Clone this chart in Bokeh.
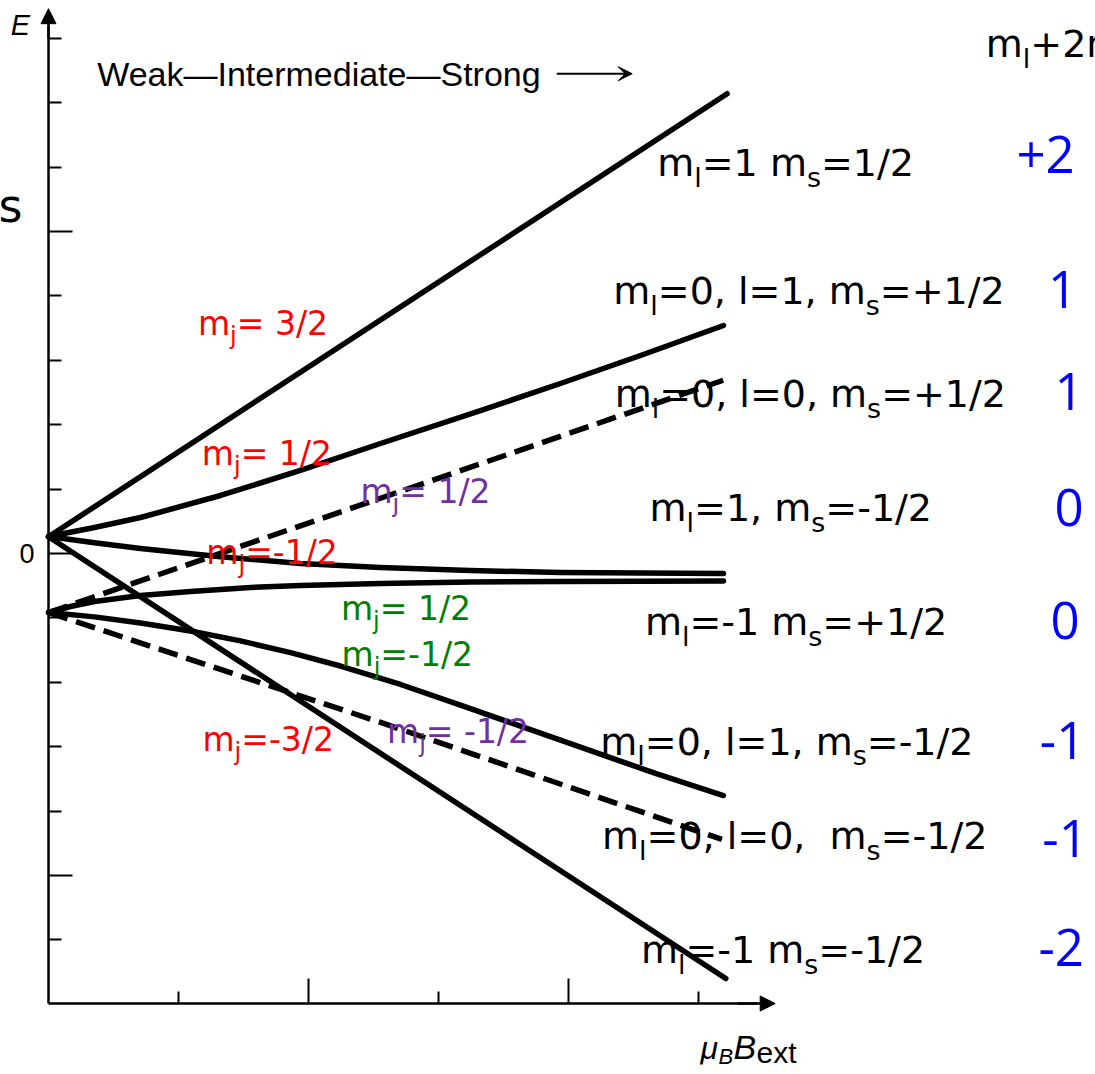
from bokeh.plotting import figure
from bokeh.models import ColumnDataSource, Range1d, FixedTicker, Arrow, NormalHead, VeeHead
from bokeh.core.properties import value
from bokeh.embed import file_html
from bokeh.resources import INLINE

# ---- energy-level curves (x: field in tick units, y: energy in tick units) ----
x_a = [0.0, 5.22]
y_a = [0.26, 7.14]                                   # mj = 3/2  -> +2
x_b = [0.0, 0.354, 0.708, 1.323, 1.938, 2.554, 3.323, 3.938, 4.554, 5.192]
y_b = [0.264, 0.404, 0.559, 0.901, 1.289, 1.708, 2.220, 2.640, 3.075, 3.540]   # mj = 1/2 (upper)
x_c = [0.0, 5.19]
y_c = [-0.916, 2.69]                                 # mj = 1/2 (lower, dashed)
x_d = [0.0, 0.354, 0.708, 1.323, 1.938, 2.554, 3.246, 3.938, 5.192]
y_d = [0.264, 0.166, 0.078, -0.050, -0.155, -0.217, -0.264, -0.295, -0.311]   # mj = -1/2 (upper)
x_e = [0.0, 0.169, 0.354, 0.708, 1.092, 1.554, 1.938, 2.554, 3.246, 3.938, 5.192]
y_e = [-0.916, -0.823, -0.745, -0.652, -0.590, -0.528, -0.497, -0.466, -0.443, -0.435, -0.427]  # mj = 1/2 (lower)
x_f = [0.0, 0.354, 0.708, 1.092, 1.477, 1.862, 2.246, 2.708, 3.169, 3.669, 4.169, 4.669, 5.192]
y_f = [-0.916, -0.984, -1.078, -1.203, -1.357, -1.539, -1.747, -2.034, -2.354, -2.708, -3.061, -3.415, -3.758]  # mj = -1/2
x_g = [0.0, 5.21]
y_g = [0.26, -6.60]                                  # mj = -3/2 -> -2
x_h = [0.0, 2.55, 5.18]
y_h = [-0.916, -2.62, -4.44]                         # mj = -1/2 (dashed)

# ---- axis ticks ----
y_major = [-5, 0, 5]
y_minor = [-6, -4, -3, -2, -1, 1, 2, 3, 4, 6, 7, 8]
x_major = [2, 4]
x_minor = [1, 3, 5]

# ---- labels ("_" marks a one-letter subscript) ----
state_text = ["m_l=1 m_s=1/2", "m_l=0, l=1, m_s=+1/2", "m_l=0, l=0, m_s=+1/2", "m_l=1, m_s=-1/2",
              "m_l=-1 m_s=+1/2", "m_l=0, l=1, m_s=-1/2", "m_l=0, l=0,\u00a0 m_s=-1/2", "m_l=-1 m_s=-1/2"]
state_x = [5.67, 5.85, 5.86, 5.71, 5.75, 5.68, 5.74, 5.65]
state_y = [6.07, 4.07, 2.48, 0.70, -1.07, -2.92, -4.39, -6.16]

shift_text = ["+2", "1", "1", "0", "0", "-1", "-1", "-2"]
shift_x = [7.67, 7.80, 7.85, 7.85, 7.82, 7.80, 7.82, 7.79]
shift_y = [6.20, 4.10, 2.52, 0.71, -1.04, -2.90, -4.43, -6.12]

red_text = ["m_j= 3/2", "m_j= 1/2", "m_j=-1/2", "m_j=-3/2"]
red_x = [1.65, 1.68, 1.72, 1.69]
red_y = [3.57, 1.55, 0.02, -2.89]

green_text = ["m_j= 1/2", "m_j=-1/2"]
green_x = [2.75, 2.76]
green_y = [-0.85, -1.57]

purple_text = ["m_j= 1/2", "m_j= -1/2"]
purple_x = [2.90, 3.15]
purple_y = [0.96, -2.76]

corner_text = ["m_l+2m_s"]
corner_x = [7.21]
corner_y = [7.91]

p = figure(width=1095, height=1074, x_range=Range1d(-0.3692, 8.0538), y_range=Range1d(-8.090, 8.587),
           output_backend="svg", toolbar_location=None, min_border=0)
p.min_border_left = 0
p.min_border_right = 0
p.min_border_top = 0
p.min_border_bottom = 0
p.outline_line_color = None
p.grid.visible = False
p.background_fill_color = "white"
p.border_fill_color = "white"

# y axis (fixed at x = 0)
ya = p.yaxis[0]
ya.fixed_location = 0
ya.ticker = FixedTicker(ticks=y_major, minor_ticks=y_minor)
ya.major_tick_in = 24
ya.major_tick_out = 0
ya.minor_tick_in = 13
ya.minor_tick_out = 0
ya.axis_line_width = 2.5
ya.major_tick_line_width = 2
ya.minor_tick_line_width = 2
ya.major_label_text_color = None
ya.bounds = (-6.988, 8.2)

# x axis (fixed at the bottom of the drawing)
xa = p.xaxis[0]
xa.fixed_location = -6.988
xa.ticker = FixedTicker(ticks=x_major, minor_ticks=x_minor)
xa.major_tick_in = 25
xa.major_tick_out = 0
xa.minor_tick_in = 12
xa.minor_tick_out = 0
xa.axis_line_width = 2.5
xa.major_tick_line_width = 2
xa.minor_tick_line_width = 2
xa.major_label_text_color = None
xa.bounds = (0, 5.45)

p.add_layout(Arrow(end=NormalHead(size=15, fill_color="black", line_color="black"),
                   x_start=0, y_start=8.0, x_end=0, y_end=8.46, line_width=2.5))
p.add_layout(Arrow(end=NormalHead(size=15, fill_color="black", line_color="black"),
                   x_start=5.3, y_start=-6.988, x_end=5.59, y_end=-6.988, line_width=2.5))

# zero label on the energy axis
p.text(x=[-0.108], y=[0], text=["0"], text_color="black", text_font=value("Liberation Sans"),
       text_font_size="27px", text_align="right", text_baseline="middle")

# curves
for xs, ys, dash in [(x_a, y_a, "solid"), (x_b, y_b, "solid"), (x_c, y_c, "20 9"),
                     (x_d, y_d, "solid"), (x_e, y_e, "solid"), (x_f, y_f, "solid"),
                     (x_g, y_g, "solid"), (x_h, y_h, "20 9")]:
    p.line(xs, ys, line_color="black", line_width=5.5, line_dash=dash,
           line_cap="butt" if dash != "solid" else "round", line_join="round")

# DejaVu Sans advance widths (em) for laying out subscripts
ADV = {" ": 0.318, "\u00a0": 0.318, "+": 0.838, ",": 0.318, "-": 0.361, "/": 0.337, "=": 0.838,
       "j": 0.278, "l": 0.278, "m": 0.974, "s": 0.521}
for d in "0123456789":
    ADV[d] = 0.636


def add_rich(labels, xs, ys, color, size, align="center"):
    sub_size = round(size * 0.72)
    drop = size * 0.38
    main = dict(x=[], y=[], text=[], xo=[], yo=[])
    sub = dict(x=[], y=[], text=[], xo=[], yo=[])
    for lab, x, y in zip(labels, xs, ys):
        pieces, buf, i = [], "", 0
        while i < len(lab):
            if lab[i] == "_" and i + 1 < len(lab):
                if buf:
                    pieces.append((buf, False))
                    buf = ""
                pieces.append((lab[i + 1], True))
                i += 2
            else:
                buf += lab[i]
                i += 1
        if buf:
            pieces.append((buf, False))
        widths = [sum(ADV.get(c, 0.6) for c in t) * (sub_size if s else size) for t, s in pieces]
        cur = -sum(widths) / 2 if align == "center" else 0.0
        for (t, s), w in zip(pieces, widths):
            d = sub if s else main
            d["x"].append(x)
            d["y"].append(y)
            d["text"].append(t)
            d["xo"].append(cur)
            d["yo"].append(drop if s else 0)
            cur += w
    for d, fs in ((main, size), (sub, sub_size)):
        p.text(x="x", y="y", text="text", x_offset="xo", y_offset="yo", source=ColumnDataSource(d),
               text_color=color, text_font=value("DejaVu Sans"), text_font_size=f"{fs}px",
               text_align="left", text_baseline="middle")


add_rich(state_text, state_x, state_y, "black", 38)
add_rich(corner_text, corner_x, corner_y, "black", 38, align="left")
add_rich(red_text, red_x, red_y, "#ff0000", 33)
add_rich(green_text, green_x, green_y, "#008000", 33)
add_rich(purple_text, purple_x, purple_y, "#7030a0", 33)

p.text(x=shift_x, y=shift_y, text=shift_text, text_color="#0000ff", text_font=value("Open Sans"),
       text_font_size="51px", text_align="center", text_baseline="middle")

# regime caption with arrow
p.text(x=[2.08], y=[7.45], text=["Weak—Intermediate—Strong"], text_color="black",
       text_font=value("Liberation Sans"), text_font_size="34px", text_align="center", text_baseline="middle")
p.add_layout(Arrow(end=VeeHead(size=14, fill_color="black", line_color="black"),
                   x_start=3.91, y_start=7.45, x_end=4.49, y_end=7.45, line_width=2))

# axis titles
p.text(x=[-0.215], y=[8.21], text=["E"], text_color="black", text_font=value("Liberation Sans"),
       text_font_style="italic", text_font_size="29px", text_align="center", text_baseline="middle")
p.text(x=[-0.2], y=[5.39], text=["s"], text_color="black", text_font=value("DejaVu Sans"),
       text_font_size="46px", text_align="right", text_baseline="middle")

p.text(x=[5.015], y=[-7.676], text=["μ"], text_color="black", text_font=value("Liberation Sans"),
       text_font_style="italic", text_font_size="32px", text_align="left", text_baseline="middle")
p.text(x=[5.154], y=[-7.81], text=["B"], text_color="black", text_font=value("Liberation Sans"),
       text_font_style="italic", text_font_size="22px", text_align="left", text_baseline="middle")
p.text(x=[5.269], y=[-7.665], text=["B"], text_color="black", text_font=value("Liberation Sans"),
       text_font_style="italic", text_font_size="34px", text_align="left", text_baseline="middle")
p.text(x=[5.446], y=[-7.753], text=["ext"], text_color="black", text_font=value("Liberation Sans"),
       text_font_size="30px", text_align="left", text_baseline="middle")

open("out.html", "w").write(file_html(p, INLINE))
